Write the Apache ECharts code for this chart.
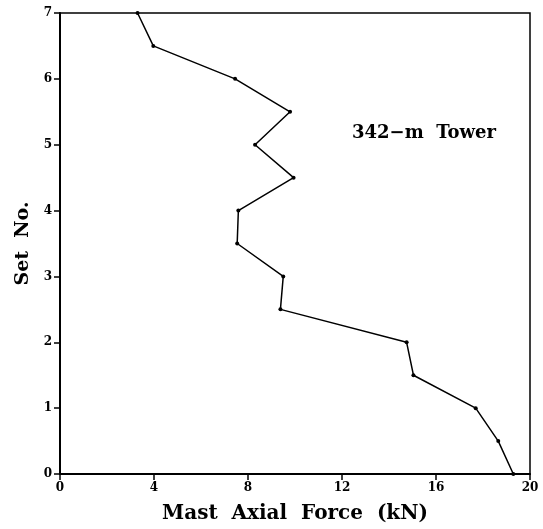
<!DOCTYPE html>
<html>
<head>
<meta charset="utf-8">
<script src="https://cdn.jsdelivr.net/npm/echarts@6/dist/echarts.min.js"></script>
<style>html,body{margin:0;padding:0;background:#fff;}#c{width:543px;height:529px;}</style>
</head>
<body>
<div id="c"></div>
<script>
var setNo = [7, 6.5, 6, 5.5, 5, 4.5, 4, 3.5, 3, 2.5, 2, 1.5, 1, 0.5, 0];
var force = [3.3, 3.97, 7.45, 9.79, 8.3, 9.94, 7.59, 7.54, 9.5, 9.38, 14.75, 15.04, 17.69, 18.65, 19.29];
var xTicks = [0, 4, 8, 12, 16, 20];
var yTicks = [0, 1, 2, 3, 4, 5, 6, 7];
var xTitle = 'Mast  Axial  Force  (kN)';
var yTitle = 'Set  No.';
var note = '342\u2212m  Tower';

var pts = force.map(function (f, i) { return [f, setNo[i]]; });
var serif = '"DejaVu Serif", "Liberation Serif", serif';
var chart = echarts.init(document.getElementById('c'));
chart.setOption({
  animation: false,
  backgroundColor: '#fff',
  grid: { left: 60, right: 13, top: 13, bottom: 53, show: true, borderColor: '#000', borderWidth: 1.5, backgroundColor: 'transparent' },
  xAxis: {
    type: 'value', min: xTicks[0], max: xTicks[xTicks.length - 1], interval: 4,
    name: xTitle, nameLocation: 'middle', nameGap: 30,
    nameTextStyle: { fontFamily: serif, fontSize: 20, fontWeight: 'bold', color: '#000' },
    axisLine: { show: true, lineStyle: { color: '#000', width: 2 } },
    axisTick: { show: true, inside: false, length: 6, lineStyle: { color: '#000', width: 1.5 } },
    axisLabel: { fontFamily: serif, fontSize: 12, fontWeight: 'bold', color: '#000', margin: 8 },
    splitLine: { show: false }
  },
  yAxis: {
    type: 'value', min: yTicks[0], max: yTicks[yTicks.length - 1], interval: 1,
    name: yTitle, nameLocation: 'middle', nameGap: 26, nameRotate: 90,
    nameTextStyle: { fontFamily: serif, fontSize: 19, fontWeight: 'bold', color: '#000' },
    axisLine: { show: true, lineStyle: { color: '#000', width: 2 } },
    axisTick: { show: true, inside: false, length: 6, lineStyle: { color: '#000', width: 1.5 } },
    axisLabel: { fontFamily: serif, fontSize: 12, fontWeight: 'bold', color: '#000', margin: 8 },
    splitLine: { show: false }
  },
  graphic: [{
    type: 'text', left: 352, top: 124,
    style: { text: note, fontFamily: serif, fontSize: 18, fontWeight: 'bold', fill: '#000' }
  }],
  series: [{
    type: 'line', data: pts, symbol: 'circle', symbolSize: 4,
    lineStyle: { color: '#000', width: 1.5 },
    itemStyle: { color: '#000' }
  }]
});
</script>
</body>
</html>
